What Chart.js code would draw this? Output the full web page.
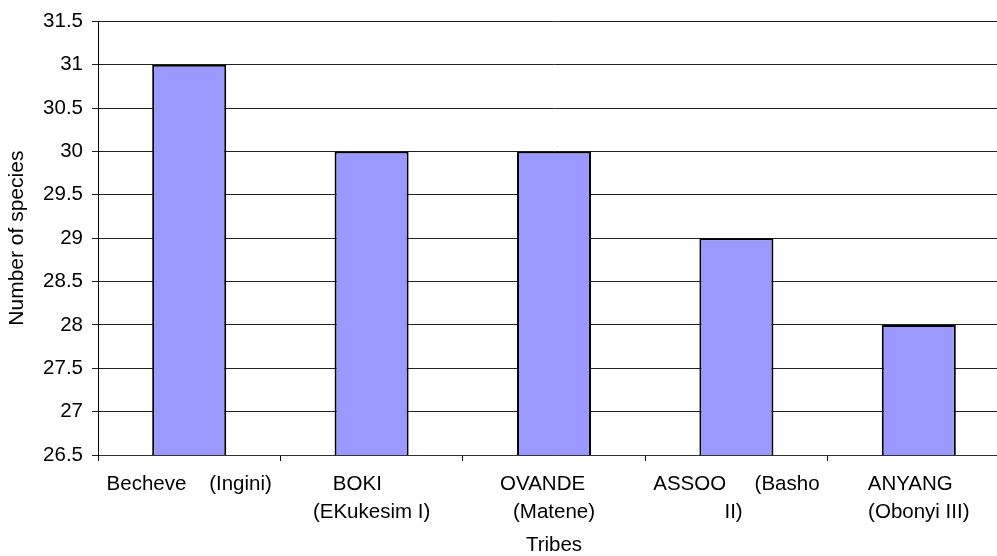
<!DOCTYPE html>
<html>
<head>
<meta charset="utf-8">
<title>Number of species by tribe</title>
<script src="https://cdn.jsdelivr.net/npm/chart.js@4/dist/chart.umd.min.js"></script>
<style>
  html, body { margin: 0; padding: 0; background: #fff; overflow: hidden; }
  #wrap { width: 997px; height: 556px; overflow: hidden; }
  canvas { display: block; }
</style>
</head>
<body>
<div id="wrap"><canvas id="chart" width="1010" height="556"></canvas></div>
<script>
// Tribe labels (each inner array is one wrapped label, one entry per line)
const tribes = [
  ['Becheve    (Ingini)'],
  ['BOKI     ', '(EKukesim I)'],
  ['OVANDE    ', '(Matene)'],
  ['ASSOO     (Basho', 'II) '],
  ['ANYANG   ', '(Obonyi III)']
];
const speciesCount = [31, 30, 30, 29, 28];
const yTicks = [26.5, 27, 27.5, 28, 28.5, 29, 29.5, 30, 30.5, 31, 31.5];

const FONT = '"Liberation Sans", Arial, sans-serif';
Chart.defaults.color = '#000';
Chart.defaults.font.family = FONT;
Chart.defaults.font.size = 20.5;

new Chart(document.getElementById('chart'), {
  type: 'bar',
  data: {
    labels: tribes,
    datasets: [{
      data: speciesCount,
      backgroundColor: '#9999FF',
      borderColor: '#000',
      borderWidth: 2,
      borderSkipped: 'start',
      barPercentage: 0.406,
      categoryPercentage: 1
    }]
  },
  options: {
    responsive: false,
    animation: false,
    devicePixelRatio: 1,
    layout: { padding: { left: 0, right: 0, top: 20, bottom: 0 } },
    plugins: {
      legend: { display: false },
      tooltip: { enabled: false }
    },
    scales: {
      x: {
        offset: true,
        grid: {
          display: true,
          offset: true,
          drawOnChartArea: false,
          drawTicks: true,
          tickLength: 6,
          color: '#000'
        },
        border: { display: true, color: '#333', width: 1 },
        ticks: {
          maxRotation: 0,
          minRotation: 0,
          autoSkip: false,
          padding: 9,
          font: { size: 20.5, lineHeight: 1.37 }
        },
        title: {
          display: true,
          text: 'Tribes',
          font: { size: 20.5, lineHeight: 1 },
          padding: { top: 0, bottom: 0 }
        },
        afterFit: (s) => { s.height = 101; }
      },
      y: {
        min: 26.5,
        max: 31.5,
        afterBuildTicks: (s) => { s.ticks = yTicks.map(v => ({ value: v })); },
        grid: {
          color: '#222',
          lineWidth: 1,
          drawTicks: true,
          tickLength: 6
        },
        border: { display: true, color: '#000', width: 1 },
        ticks: {
          padding: 9,
          callback: (v) => String(v),
          font: { size: 20.5 }
        },
        title: {
          display: true,
          text: 'Number of species',
          font: { size: 21, lineHeight: 1 },
          padding: { top: 7, bottom: 0 }
        },
        afterFit: (s) => { s.width = 98; }
      }
    }
  }
});
</script>
</body>
</html>
